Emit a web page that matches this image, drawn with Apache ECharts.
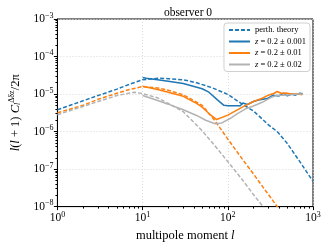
<!DOCTYPE html>
<html><head><meta charset="utf-8">
<script src="https://cdn.jsdelivr.net/npm/echarts@6/dist/echarts.min.js"></script>
<style>html,body{margin:0;padding:0;background:#fff}#c{width:329px;height:247px}</style>
</head><body><div id="c"></div>
<script>
// perturbation theory curves
const theoryBlueL = [1,2,3,5,7,10,15,20,30,43,65,100,150,200,300,380,500,700,1000];
const theoryBlueV = [3.80e-6,6.61e-6,9.12e-6,1.35e-5,1.82e-5,2.40e-5,2.63e-5,2.57e-5,2.40e-5,2.00e-5,1.48e-5,9.77e-6,5.25e-6,3.55e-6,1.51e-6,1.00e-6,4.79e-7,1.58e-7,4.68e-8];
const theoryOrangeL = [1,2,3,5,7,10,15,20,30,50,70,100,150,200,300,400];
const theoryOrangeV = [3.16e-6,5.01e-6,7.24e-6,1.05e-5,1.32e-5,1.58e-5,1.45e-5,1.26e-5,9.55e-6,5.01e-6,2.00e-6,6.31e-7,1.78e-7,7.41e-8,2.09e-8,8.5e-9];
const theoryGrayL = [1,2,3,5,8,10,15,20,30,50,70,100,150,200,270];
const theoryGrayV = [2.82e-6,4.68e-6,6.31e-6,9.12e-6,1.12e-5,1.02e-5,7.94e-6,5.62e-6,3.39e-6,1.05e-6,4.27e-7,1.58e-7,5.01e-8,2.09e-8,8.9e-9];
// simulation curves
const simBlueL = [10,11,15,20,30,50,60,75,90,100,140,150,170,200,230,290,340,400,450,500,560,620,700,760];
const simBlueV = [2.75e-5,2.63e-5,2.40e-5,2.19e-5,1.91e-5,1.38e-5,1.12e-5,7.08e-6,5.01e-6,4.90e-6,4.90e-6,5.75e-6,5.25e-6,6.31e-6,6.92e-6,7.59e-6,9.33e-6,8.91e-6,1.05e-5,8.91e-6,1.00e-5,9.33e-6,1.05e-5,1.02e-5];
const simOrangeL = [10,15,20,30,43,50,60,74,100,150,200,250,300,350,380,420,480,550,650,750];
const simOrangeV = [1.62e-5,1.32e-5,1.12e-5,8.71e-6,5.62e-6,4.47e-6,3.02e-6,2.09e-6,2.75e-6,4.57e-6,6.31e-6,7.59e-6,9.33e-6,1.05e-5,1.17e-5,1.05e-5,1.07e-5,1.00e-5,1.02e-5,9.55e-6];
const simGrayL = [10,15,20,30,43,55,71,85,105,130,163,200,253,315,380,450,550,650,760];
const simGrayV = [9.12e-6,6.76e-6,5.37e-6,3.80e-6,2.69e-6,2.00e-6,1.62e-6,1.70e-6,2.19e-6,3.02e-6,4.07e-6,4.79e-6,6.03e-6,7.94e-6,9.33e-6,9.33e-6,9.55e-6,1.00e-5,1.00e-5];

const names = ['perth. theory','z = 0.2 ± 0.001','z = 0.2 ± 0.01','z = 0.2 ± 0.02'];
const C_BLUE = '#1f77b4', C_ORANGE = '#ff7f0e', C_GRAY = '#b3b3b3';
const FONT = 'Liberation Serif';

function pairs(L, V){ return L.map((l,i)=>[l, V[i]]); }
function powLabel(v){
  const e = Math.round(Math.log10(v));
  return '{b|10}{s|' + (e < 0 ? '\u2212' + (-e) : e) + '}';
}
const tickRich = {
  b:{fontFamily:FONT,fontSize:11.5,color:'#000'},
  s:{fontFamily:FONT,fontSize:8,color:'#000',verticalAlign:'bottom',padding:[0,0,7,0]}
};
function line(name, L, V, color, dashed){
  return {
    name: name, type:'line', data: pairs(L,V), showSymbol:false, symbol:'none',
    smooth:false, clip:true, animation:false,
    lineStyle:{color:color,width:1.5,type: dashed ? [4,2] : 'solid'},
    itemStyle:{color:color}
  };
}

const chart = echarts.init(document.getElementById('c'), null, {renderer:'canvas'});
chart.setOption({
  animation:false,
  backgroundColor:'#fff',
  title:{text:'observer 0', left:183, top:2, textAlign:'center',
    textStyle:{fontFamily:FONT,fontSize:11.5,fontWeight:'normal',color:'#000'}},
  grid:{left:52, right:16, top:19, bottom:38, show:true, borderColor:'#000', borderWidth:1, backgroundColor:'transparent'},
  legend:{
    data: names, orient:'vertical', right:19, top:23,
    itemWidth:21, itemHeight:6, itemGap:1.5,
    backgroundColor:'#fff', borderColor:'#d0d0d0', borderWidth:1, borderRadius:3,
    padding:[2,4,2,4],
    itemStyle:{opacity:0},
    formatter: n => n.startsWith('z') ? '{i|z}{n|' + n.slice(1) + '}' : '{n|' + n + '}',
    textStyle:{fontFamily:FONT,fontSize:8.5,lineHeight:10,color:'#000',
      rich:{i:{fontFamily:FONT,fontStyle:'italic',fontSize:8.5,lineHeight:10},n:{fontFamily:FONT,fontSize:8.5,lineHeight:10}}}
  },
  xAxis:{
    type:'log', logBase:10, min:1, max:1000,
    name:'multipole moment {i|l}', nameLocation:'middle', nameGap:21,
    nameTextStyle:{fontFamily:FONT,fontSize:12.5,color:'#000',
      rich:{i:{fontFamily:FONT,fontStyle:'italic',fontSize:12.5}}},
    axisLine:{show:true,lineStyle:{color:'#000',width:1}},
    axisTick:{show:true,inside:false,length:3.5,lineStyle:{color:'#000'}},
    minorTick:{show:true,splitNumber:9,length:2,lineStyle:{color:'#000'}},
    axisLabel:{formatter: powLabel, rich: tickRich, margin:4},
    splitLine:{show:true,lineStyle:{color:'#d0d0d0',type:[1,2],width:0.8}}
  },
  yAxis:{
    type:'log', logBase:10, min:1e-8, max:1e-3,
    name:'{i|l}{n|(}{i|l}{n| + 1) }{i|C}{sub|l}{sup|Δδz}{n|/2π}', nameLocation:'middle', nameGap:33,
    nameTextStyle:{fontFamily:FONT,fontSize:12.5,color:'#000',
      rich:{
        i:{fontFamily:FONT,fontStyle:'italic',fontSize:12.5},
        n:{fontFamily:FONT,fontSize:12.5},
        sub:{fontFamily:FONT,fontStyle:'italic',fontSize:8,verticalAlign:'top',padding:[6,0,0,0]},
        sup:{fontFamily:FONT,fontSize:8,verticalAlign:'bottom',padding:[0,0,8,0]}
      }},
    axisLine:{show:true,lineStyle:{color:'#000',width:1}},
    axisTick:{show:true,inside:false,length:3.5,lineStyle:{color:'#000'}},
    minorTick:{show:true,splitNumber:9,length:2,lineStyle:{color:'#000'}},
    axisLabel:{formatter: powLabel, rich: tickRich, margin:4},
    splitLine:{show:true,lineStyle:{color:'#d0d0d0',type:[1,2],width:0.8}}
  },
  series:[
    line('perth. theory', theoryBlueL, theoryBlueV, C_BLUE, true),
    line('theory 0.01', theoryOrangeL, theoryOrangeV, C_ORANGE, true),
    line('theory 0.02', theoryGrayL, theoryGrayV, C_GRAY, true),
    line(names[1], simBlueL, simBlueV, C_BLUE, false),
    line(names[2], simOrangeL, simOrangeV, C_ORANGE, false),
    line(names[3], simGrayL, simGrayV, C_GRAY, false)
  ]
});
</script></body></html>
